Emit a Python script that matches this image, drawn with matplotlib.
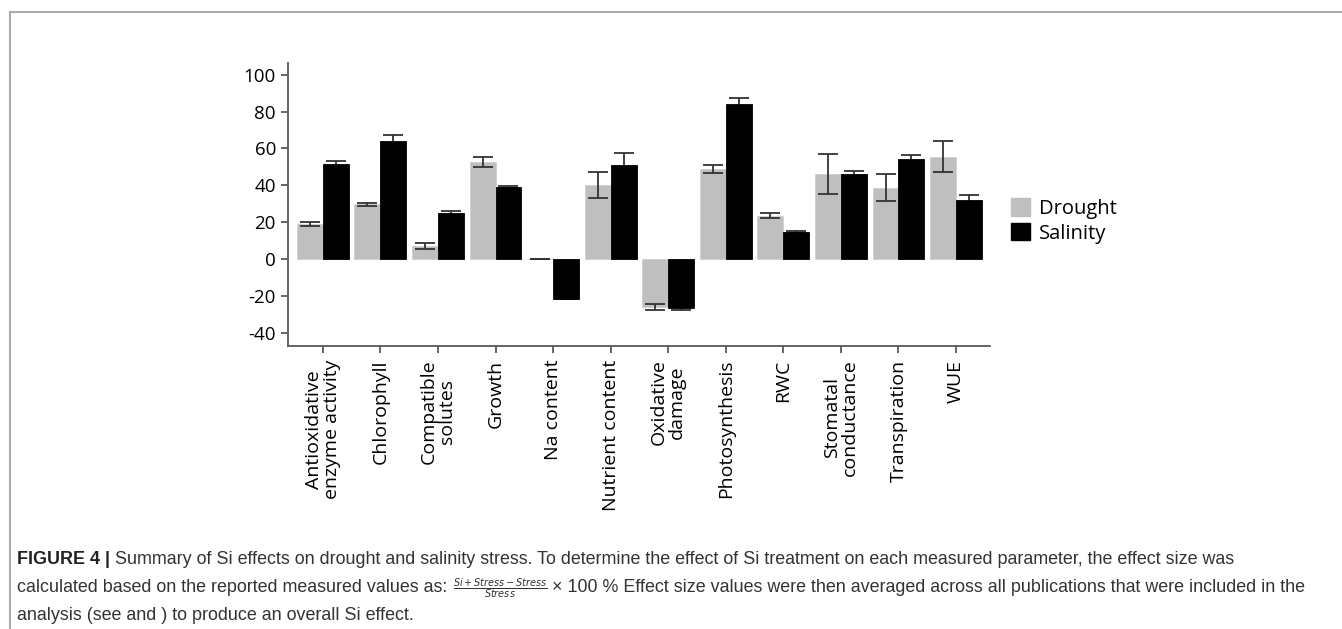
import numpy as np
import matplotlib
matplotlib.use("Agg")
import matplotlib.pyplot as plt
from matplotlib.patches import Patch
from matplotlib import font_manager

# data (effect size, %)
categories = ["Antioxidative\nenzyme activity", "Chlorophyll", "Compatible\nsolutes",
              "Growth", "Na content", "Nutrient content", "Oxidative\ndamage",
              "Photosynthesis", "RWC", "Stomatal\nconductance", "Transpiration", "WUE"]
drought = [19.2, 29.7, 7.0, 52.7, 0.0, 40.2, -26.0, 48.8, 23.5, 46.0, 38.8, 55.5]
drought_err = [1.1, 0.9, 1.6, 2.7, 0.0, 7.0, 1.4, 2.3, 1.4, 10.9, 7.2, 8.5]
salinity = [51.4, 64.3, 25.0, 39.1, -21.6, 50.9, -26.8, 84.2, 14.7, 46.4, 54.2, 32.1]
salinity_err = [2.0, 2.9, 1.1, 0.3, 0.3, 6.5, 0.6, 2.9, 0.3, 1.4, 2.1, 2.9]
yticks = [-40, -20, 0, 20, 40, 60, 80, 100]

W, H = 1342, 629

installed = {f.name for f in font_manager.fontManager.ttflist}
chart_font = "Open Sans" if "Open Sans" in installed else "DejaVu Sans"
caption_font = "Liberation Sans"

plt.rcParams['font.family'] = [chart_font, 'DejaVu Sans']

fig = plt.figure(figsize=(W/100, H/100), dpi=100)

# thin grey frame (top and left only, like the journal page crop)
fig.add_artist(plt.Line2D([9.5/W, 1.0], [1 - 11.5/H, 1 - 11.5/H], color="#aaaaaa", lw=1.5))
fig.add_artist(plt.Line2D([9.5/W, 9.5/W], [0.0, 1 - 11.5/H], color="#aaaaaa", lw=1.5))

ax = fig.add_axes([0.2144, 0.4504, 0.5233, 0.4499])

x = np.arange(len(categories))
w = 0.45
grey = "#bfbfbf"
ax.bar(x - w/2, drought, width=w, color=grey, edgecolor="#d0d0d0", linewidth=0.6, zorder=2)
ax.bar(x + w/2, salinity, width=w, color="black", edgecolor="black", linewidth=0.6, zorder=2)
ax.errorbar(x - w/2, drought, yerr=drought_err, fmt="none", ecolor="#333333",
            elinewidth=1.3, capsize=7, capthick=1.3, zorder=3)
ax.errorbar(x + w/2, salinity, yerr=salinity_err, fmt="none", ecolor="#333333",
            elinewidth=1.3, capsize=7, capthick=1.3, zorder=1)

ax.set_xlim(-0.61, 11.59)
ax.set_ylim(-47, 106.5)
ax.set_yticks(yticks)
ax.set_yticklabels([str(v) for v in yticks], fontsize=13.5)
ax.set_xticks(x)
ax.set_xticklabels(categories, rotation=90, fontsize=14, linespacing=1.0)

for side in ["top", "right"]:
    ax.spines[side].set_visible(False)
for side in ["left", "bottom"]:
    ax.spines[side].set_color("#595959")
    ax.spines[side].set_linewidth(1.3)
ax.tick_params(axis="both", colors="#595959", length=5, width=1.3, labelcolor="black")
ax.tick_params(axis="x", pad=5)

handles = [Patch(facecolor=grey, edgecolor=grey), Patch(facecolor="black", edgecolor="black")]
fig.legend(handles, ["Drought", "Salinity"], loc="center left",
           bbox_to_anchor=(1011/W, 1 - 221/H), frameon=False, fontsize=14.5,
           handlelength=0.95, handleheight=0.95, handletextpad=0.45, labelspacing=0.2,
           borderaxespad=0, borderpad=0)

# caption, written piece by piece so the bold label and the fraction sit inline
renderer = fig.canvas.get_renderer()
cap_kw = dict(fontsize=12.9, family=[caption_font, 'DejaVu Sans'], color="#333333", va="center")


def write_line(pieces, x0, y):
    xpos = x0
    for txt, extra, gap in pieces:
        t = fig.text(xpos/W, 1 - y/H, txt, **dict(cap_kw, **extra))
        bb = t.get_window_extent(renderer)
        xpos = bb.x1 + gap


write_line([("FIGURE 4 |", dict(fontweight="bold", color="#222222"), 5),
            ("Summary of Si effects on drought and salinity stress. To determine the effect of Si treatment "
             "on each measured parameter, the effect size was", {}, 0)], 17, 560)
write_line([("calculated based on the reported measured values as:", {}, 6),
            (r"$\frac{\mathit{Si+Stress-Stress}}{\mathit{Stress}}$", dict(fontsize=10), 4),
            ("× 100 % Effect size values were then averaged across all publications that were included in the",
             {}, 0)], 17, 588)
write_line([("analysis (see and ) to produce an overall Si effect.", {}, 0)], 17, 616)

fig.savefig("out.png", dpi=100)
